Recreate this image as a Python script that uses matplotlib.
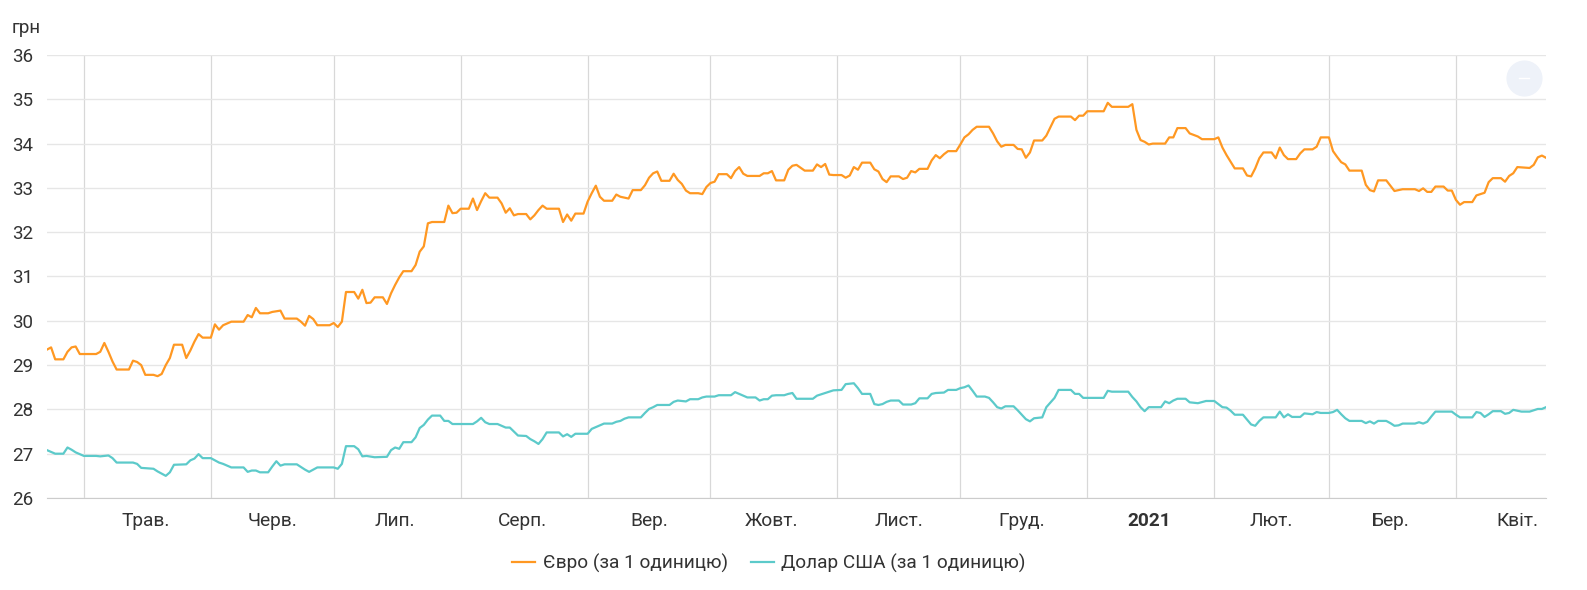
import numpy as np
import matplotlib
matplotlib.use("Agg")
import matplotlib.pyplot as plt

plt.rcParams['font.family'] = ['Roboto', 'DejaVu Sans']

start = np.datetime64('2020-04-22')

# days since 2020-04-22 and rate (UAH)
eur_days = [0, 1, 2, 4, 5, 6, 7, 8, 12, 13, 14, 15, 16, 17, 20, 21, 22, 23, 24, 26,
            27, 28, 29, 30, 31, 33, 34, 35, 36, 37, 38, 40, 41, 42, 43, 45, 48, 49, 50, 51,
            52, 54, 55, 57, 58, 61, 62, 63, 64, 65, 66, 69, 70, 71, 72, 73, 75, 76, 77, 78,
            79, 80, 82, 83, 84, 85, 86, 87, 89, 90, 91, 92, 93, 94, 97, 98, 99, 100, 101, 103,
            104, 105, 106, 107, 108, 110, 111, 112, 113, 114, 115, 117, 118, 119, 120, 121, 122, 125, 126, 127,
            128, 129, 131, 132, 133, 134, 135, 136, 138, 139, 140, 142, 143, 145, 146, 147, 148, 149, 150, 152,
            153, 154, 155, 156, 157, 159, 160, 161, 162, 163, 164, 166, 167, 168, 169, 170, 171, 174, 175, 176,
            177, 178, 180, 181, 182, 183, 185, 187, 188, 189, 190, 191, 192, 194, 195, 196, 197, 198, 199, 201,
            202, 203, 204, 205, 206, 208, 209, 210, 211, 212, 213, 215, 216, 217, 218, 219, 220, 222, 223, 224,
            225, 226, 227, 230, 231, 232, 233, 234, 236, 237, 238, 239, 240, 241, 243, 244, 246, 247, 250, 251,
            252, 253, 254, 258, 259, 260, 264, 265, 266, 267, 268, 269, 270, 273, 274, 275, 276, 278, 279, 281,
            282, 285, 286, 287, 288, 289, 290, 292, 293, 294, 295, 296, 297, 299, 300, 301, 302, 303, 305, 306,
            307, 309, 310, 311, 313, 314, 315, 316, 317, 318, 321, 322, 323, 324, 325, 327, 328, 329, 331, 334,
            335, 336, 337, 338, 339, 341, 342, 343, 344, 345, 346, 348, 349, 350, 351, 352, 353, 355, 356, 357,
            358, 359, 362, 363, 364, 365, 366]
eur_vals = [29.35, 29.40, 29.13, 29.13, 29.30, 29.40, 29.42, 29.25, 29.25, 29.30, 29.50, 29.30, 29.08, 28.90, 28.90, 29.10, 29.07, 29.00, 28.78, 28.78,
            28.75, 28.80, 29.00, 29.16, 29.46, 29.46, 29.16, 29.33, 29.53, 29.70, 29.62, 29.62, 29.92, 29.80, 29.90, 29.98, 29.98, 30.13, 30.08, 30.29,
            30.17, 30.17, 30.20, 30.23, 30.05, 30.05, 29.98, 29.89, 30.11, 30.04, 29.90, 29.90, 29.95, 29.86, 29.98, 30.65, 30.65, 30.50, 30.70, 30.40,
            30.41, 30.53, 30.53, 30.38, 30.62, 30.81, 30.98, 31.12, 31.12, 31.26, 31.56, 31.68, 32.20, 32.23, 32.23, 32.60, 32.43, 32.44, 32.53, 32.53,
            32.76, 32.50, 32.70, 32.88, 32.78, 32.78, 32.65, 32.44, 32.54, 32.38, 32.41, 32.41, 32.29, 32.38, 32.50, 32.60, 32.53, 32.53, 32.23, 32.40,
            32.26, 32.42, 32.42, 32.69, 32.88, 33.05, 32.80, 32.71, 32.71, 32.85, 32.80, 32.76, 32.95, 32.95, 33.06, 33.23, 33.33, 33.37, 33.16, 33.16,
            33.32, 33.18, 33.09, 32.94, 32.88, 32.88, 32.86, 33.02, 33.11, 33.14, 33.31, 33.31, 33.22, 33.38, 33.47, 33.32, 33.27, 33.27, 33.33, 33.33,
            33.38, 33.17, 33.17, 33.41, 33.50, 33.52, 33.39, 33.39, 33.53, 33.47, 33.54, 33.30, 33.29, 33.29, 33.23, 33.28, 33.47, 33.41, 33.57, 33.57,
            33.42, 33.37, 33.20, 33.13, 33.26, 33.26, 33.20, 33.23, 33.38, 33.35, 33.43, 33.43, 33.62, 33.74, 33.67, 33.76, 33.83, 33.83, 33.98, 34.14,
            34.21, 34.31, 34.38, 34.38, 34.23, 34.05, 33.93, 33.97, 33.97, 33.88, 33.87, 33.68, 33.80, 34.07, 34.07, 34.18, 34.56, 34.61, 34.61, 34.53,
            34.63, 34.63, 34.73, 34.73, 34.92, 34.83, 34.83, 34.89, 34.31, 34.08, 34.04, 33.98, 34.00, 34.00, 34.14, 34.14, 34.35, 34.35, 34.23, 34.16,
            34.10, 34.10, 34.14, 33.91, 33.74, 33.59, 33.44, 33.44, 33.28, 33.26, 33.44, 33.67, 33.80, 33.80, 33.67, 33.91, 33.74, 33.65, 33.65, 33.78,
            33.87, 33.87, 33.93, 34.14, 34.14, 33.83, 33.70, 33.58, 33.53, 33.39, 33.39, 33.07, 32.95, 32.92, 33.17, 33.17, 33.05, 32.93, 32.97, 32.97,
            32.93, 32.99, 32.91, 32.91, 33.03, 33.03, 32.94, 32.94, 32.73, 32.62, 32.68, 32.68, 32.83, 32.86, 32.89, 33.13, 33.22, 33.22, 33.14, 33.27,
            33.33, 33.47, 33.45, 33.52, 33.69, 33.73, 33.68]

usd_days = [0, 2, 4, 5, 6, 7, 9, 12, 13, 15, 16, 17, 21, 22, 23, 26, 27, 28, 29, 30,
            31, 34, 35, 36, 37, 38, 40, 41, 42, 43, 45, 48, 49, 50, 51, 52, 54, 55, 56, 57,
            58, 61, 62, 63, 64, 65, 66, 70, 71, 72, 73, 75, 76, 77, 78, 80, 83, 84, 85, 86,
            87, 89, 90, 91, 92, 93, 94, 96, 97, 98, 99, 104, 105, 106, 107, 108, 110, 111, 112, 113,
            114, 115, 117, 118, 119, 120, 121, 122, 125, 126, 127, 128, 129, 132, 133, 134, 135, 136, 138, 139,
            140, 141, 142, 145, 146, 147, 148, 149, 152, 153, 154, 156, 157, 159, 160, 161, 163, 164, 167, 168,
            169, 170, 171, 173, 174, 175, 176, 177, 178, 180, 181, 182, 183, 187, 188, 190, 192, 194, 195, 197,
            198, 199, 201, 202, 203, 204, 205, 206, 208, 209, 211, 212, 213, 215, 216, 217, 219, 220, 222, 223,
            224, 225, 226, 227, 229, 230, 231, 232, 233, 234, 236, 237, 238, 239, 240, 241, 243, 244, 246, 247,
            250, 251, 252, 253, 258, 259, 260, 264, 265, 266, 267, 268, 269, 272, 273, 274, 275, 276, 278, 279,
            281, 283, 285, 286, 287, 288, 289, 290, 292, 293, 294, 295, 296, 297, 300, 301, 302, 303, 304, 306,
            307, 309, 310, 311, 313, 314, 315, 316, 317, 318, 321, 322, 323, 324, 325, 327, 328, 329, 330, 331,
            334, 335, 336, 337, 338, 339, 343, 344, 345, 348, 349, 350, 351, 352, 353, 355, 356, 357, 358, 359,
            360, 362, 363, 364, 365, 366]
usd_vals = [27.08, 27.00, 27.00, 27.14, 27.09, 27.03, 26.95, 26.95, 26.94, 26.96, 26.90, 26.80, 26.80, 26.77, 26.68, 26.66, 26.60, 26.55, 26.50, 26.58,
            26.75, 26.76, 26.85, 26.89, 26.99, 26.90, 26.90, 26.85, 26.80, 26.77, 26.69, 26.69, 26.59, 26.62, 26.62, 26.58, 26.58, 26.71, 26.83, 26.73,
            26.76, 26.76, 26.70, 26.64, 26.59, 26.64, 26.69, 26.69, 26.66, 26.77, 27.17, 27.17, 27.10, 26.94, 26.95, 26.92, 26.93, 27.08, 27.14, 27.11,
            27.26, 27.26, 27.37, 27.58, 27.65, 27.77, 27.86, 27.86, 27.74, 27.74, 27.67, 27.67, 27.73, 27.81, 27.71, 27.67, 27.67, 27.63, 27.59, 27.59,
            27.50, 27.41, 27.40, 27.33, 27.28, 27.22, 27.33, 27.48, 27.48, 27.39, 27.44, 27.38, 27.45, 27.45, 27.56, 27.60, 27.64, 27.68, 27.68, 27.72,
            27.74, 27.79, 27.82, 27.82, 27.92, 28.01, 28.05, 28.10, 28.10, 28.17, 28.20, 28.18, 28.23, 28.23, 28.27, 28.29, 28.29, 28.32, 28.32, 28.39,
            28.35, 28.31, 28.27, 28.27, 28.20, 28.23, 28.23, 28.31, 28.32, 28.32, 28.35, 28.37, 28.24, 28.24, 28.31, 28.37, 28.43, 28.44, 28.57, 28.59,
            28.48, 28.35, 28.35, 28.12, 28.10, 28.12, 28.17, 28.20, 28.20, 28.11, 28.11, 28.14, 28.25, 28.25, 28.35, 28.37, 28.38, 28.44, 28.44, 28.48,
            28.50, 28.54, 28.42, 28.29, 28.29, 28.26, 28.16, 28.05, 28.02, 28.07, 28.07, 27.98, 27.88, 27.78, 27.73, 27.80, 27.82, 28.05, 28.26, 28.44,
            28.44, 28.35, 28.35, 28.26, 28.26, 28.42, 28.40, 28.40, 28.28, 28.18, 28.05, 27.96, 28.05, 28.05, 28.18, 28.14, 28.20, 28.24, 28.24, 28.16,
            28.14, 28.19, 28.19, 28.12, 28.05, 28.04, 27.97, 27.88, 27.88, 27.77, 27.66, 27.63, 27.74, 27.82, 27.82, 27.95, 27.82, 27.89, 27.83, 27.83,
            27.91, 27.89, 27.94, 27.92, 27.92, 27.94, 27.99, 27.89, 27.80, 27.74, 27.74, 27.69, 27.73, 27.68, 27.74, 27.74, 27.69, 27.63, 27.64, 27.68,
            27.68, 27.71, 27.68, 27.72, 27.84, 27.95, 27.95, 27.88, 27.82, 27.82, 27.94, 27.92, 27.83, 27.89, 27.96, 27.96, 27.90, 27.92, 27.99, 27.97,
            27.95, 27.95, 27.98, 28.01, 28.01, 28.05]

month_starts = ['2020-05-01', '2020-06-01', '2020-07-01', '2020-08-01', '2020-09-01', '2020-10-01',
                '2020-11-01', '2020-12-01', '2021-01-01', '2021-02-01', '2021-03-01', '2021-04-01']
month_labels = ['Трав.', 'Черв.', 'Лип.', 'Серп.', 'Вер.', 'Жовт.',
                'Лист.', 'Груд.', '2021', 'Лют.', 'Бер.', 'Квіт.']

eur_x = start + np.array(eur_days, dtype='timedelta64[D]')
usd_x = start + np.array(usd_days, dtype='timedelta64[D]')
starts = np.array(month_starts, dtype='datetime64[D]')
ends = np.append(starts[1:], np.datetime64('2021-05-01'))
mids = starts + (ends - starts) // 2

fig = plt.figure(figsize=(15.87, 5.90), dpi=100)
ax = fig.add_axes([47 / 1587, 1 - 498 / 590, (1546 - 47) / 1587, (498 - 55) / 590])

ax.plot(eur_x, eur_vals, color='#ff9822', lw=1.6, label='Євро (за 1 одиницю)')
ax.plot(usd_x, usd_vals, color='#5ccaca', lw=1.6, label='Долар США (за 1 одиницю)')

ax.set_xlim(start, start + np.timedelta64(366, 'D'))
ax.set_ylim(26, 36)
ax.set_yticks(range(26, 37))

ax.set_xticks(starts, minor=True)
ax.set_xticks(mids)
ax.set_xticklabels(month_labels)
ax.get_xticklabels()[8].set_fontweight('bold')

ax.grid(axis='y', color='#e6e6e6', lw=1)
ax.grid(axis='x', which='minor', color='#d8d8d8', lw=0.9)
ax.set_axisbelow(True)
ax.tick_params(which='both', length=0)
ax.tick_params(axis='y', labelsize=13.5, colors='#333333', pad=10)
ax.tick_params(axis='x', labelsize=13.8, colors='#333333', pad=10)
for s in ['top', 'right', 'left']:
    ax.spines[s].set_visible(False)
ax.spines['bottom'].set_color('#cccccc')

fig.text(12 / 1587, 1 - 28 / 590, 'грн', fontsize=13.5, color='#333333', va='center', ha='left')

# zoom reset button
ax.plot([(1524 - 47) / 1499], [(498 - 78) / 443], 'o', ms=25, color='#eef2f9',
        transform=ax.transAxes, clip_on=False)
ax.plot([(1519 - 47) / 1499, (1529 - 47) / 1499], [(498 - 78) / 443] * 2, color='white',
        lw=1, transform=ax.transAxes, clip_on=False)

fig.legend(loc='center', bbox_to_anchor=(769 / 1587, 1 - 563 / 590), ncol=2, frameon=False,
           fontsize=13.7, handlelength=1.2, handletextpad=0.4, columnspacing=1.2,
           labelcolor='#333333')

fig.savefig('out.png', dpi=100)
